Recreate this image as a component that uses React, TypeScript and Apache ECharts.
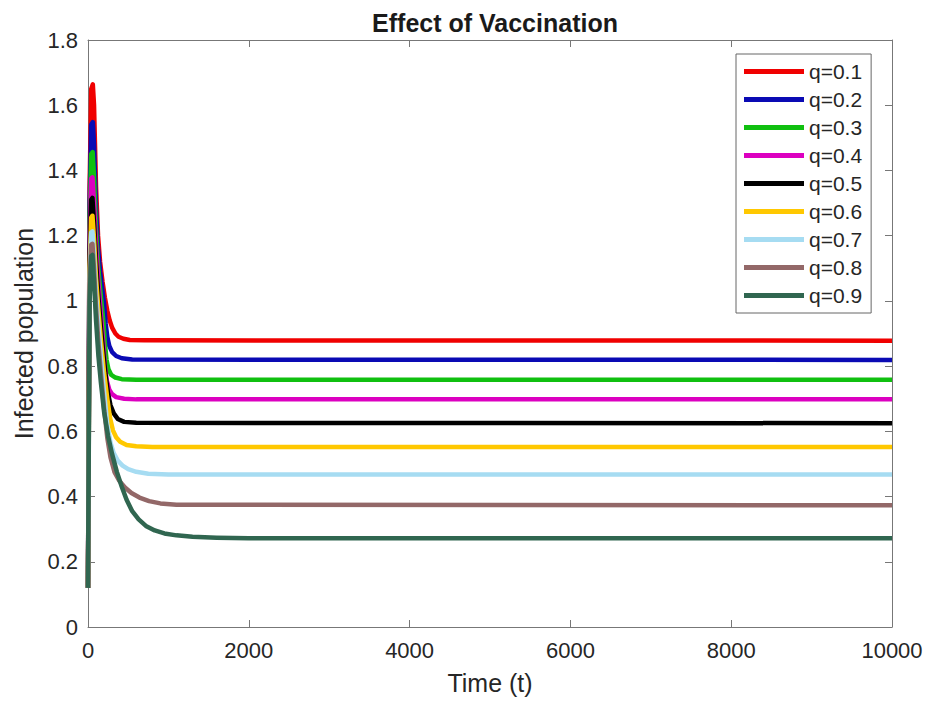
import React, { useEffect, useRef } from "react";
import * as echarts from "echarts";

// Time (t) vs infected population for each vaccination level q
const seriesNames = ["q=0.1", "q=0.2", "q=0.3", "q=0.4", "q=0.5", "q=0.6", "q=0.7", "q=0.8", "q=0.9"];
const seriesColors = ["#f00000", "#0a0ab4", "#10c010", "#dc00c0", "#000000", "#ffc800", "#a6dcf2", "#936868", "#306650"];

const q01 = [[0, 0.12], [20, 1.35], [40, 1.65], [60, 1.664], [75, 1.6], [100, 1.35], [125, 1.2], [150, 1.12], [180, 1.06], [210, 1.01], [240, 0.97], [270, 0.94], [300, 0.918], [340, 0.9], [380, 0.89], [440, 0.884], [520, 0.88], [700, 0.879], [10000, 0.878]];
const q02 = [[0, 0.12], [20, 1.3], [40, 1.54], [60, 1.548], [75, 1.48], [100, 1.28], [125, 1.16], [150, 1.09], [175, 1.04], [200, 0.99], [220, 0.93], [240, 0.89], [265, 0.862], [300, 0.843], [350, 0.831], [420, 0.824], [550, 0.82], [10000, 0.819]];
const q03 = [[0, 0.12], [20, 1.25], [40, 1.45], [58, 1.456], [75, 1.38], [100, 1.22], [125, 1.11], [150, 1.04], [170, 0.99], [190, 0.94], [210, 0.87], [230, 0.82], [255, 0.79], [290, 0.773], [340, 0.765], [420, 0.76], [600, 0.758], [10000, 0.758]];
const q04 = [[0, 0.12], [20, 1.2], [40, 1.375], [55, 1.379], [75, 1.3], [100, 1.17], [125, 1.07], [150, 0.99], [170, 0.93], [190, 0.87], [210, 0.8], [235, 0.755], [265, 0.728], [300, 0.714], [350, 0.705], [450, 0.7], [600, 0.698], [10000, 0.698]];
const q05 = [[0, 0.12], [20, 1.15], [40, 1.31], [55, 1.316], [75, 1.24], [100, 1.12], [130, 1.01], [160, 0.92], [190, 0.84], [220, 0.77], [250, 0.715], [280, 0.68], [320, 0.655], [370, 0.638], [450, 0.629], [600, 0.626], [10000, 0.625]];
const q06 = [[0, 0.12], [20, 1.1], [40, 1.255], [55, 1.261], [75, 1.19], [100, 1.07], [130, 0.97], [160, 0.88], [200, 0.78], [240, 0.7], [275, 0.64], [310, 0.603], [350, 0.582], [400, 0.568], [480, 0.558], [600, 0.554], [800, 0.552], [10000, 0.552]];
const q07 = [[0, 0.12], [20, 1.07], [40, 1.21], [55, 1.213], [75, 1.14], [100, 1.02], [130, 0.92], [160, 0.83], [200, 0.72], [240, 0.62], [280, 0.565], [320, 0.533], [370, 0.51], [430, 0.495], [500, 0.484], [600, 0.476], [750, 0.47], [1000, 0.468], [10000, 0.468]];
const q08 = [[0, 0.12], [20, 1.05], [40, 1.172], [55, 1.175], [75, 1.1], [100, 0.98], [130, 0.87], [160, 0.78], [200, 0.67], [240, 0.58], [280, 0.52], [330, 0.475], [390, 0.448], [460, 0.428], [540, 0.411], [640, 0.397], [760, 0.386], [900, 0.379], [1100, 0.375], [10000, 0.373]];
const q09 = [[0, 0.12], [20, 1.0], [40, 1.138], [55, 1.141], [75, 1.06], [100, 0.94], [130, 0.83], [160, 0.75], [200, 0.66], [250, 0.585], [300, 0.53], [360, 0.475], [420, 0.43], [480, 0.39], [550, 0.355], [630, 0.33], [720, 0.31], [830, 0.296], [950, 0.287], [1100, 0.281], [1300, 0.277], [1600, 0.274], [2000, 0.272], [10000, 0.272]];

const seriesData = [q01, q02, q03, q04, q05, q06, q07, q08, q09];

const FONT = "'Liberation Sans', Arial, Helvetica, sans-serif";
const AXIS_COLOR = "#777777";
const TEXT_COLOR = "#262626";

export default function App() {
  const ref = useRef<HTMLDivElement>(null);

  useEffect(() => {
    if (!ref.current) return;
    const chart = echarts.init(ref.current, undefined, { renderer: "svg" });

    const axisCommon = {
      axisLine: { show: true, onZero: false, lineStyle: { color: AXIS_COLOR, width: 1 } },
      axisTick: { show: true, inside: true, length: 7, lineStyle: { color: AXIS_COLOR, width: 1 } },
      splitLine: { show: false },
    };

    chart.setOption({
      animation: false,
      backgroundColor: "#ffffff",
      title: {
        text: "Effect of Vaccination",
        left: 490,
        textAlign: "center",
        top: 5,
        textStyle: { fontFamily: FONT, fontSize: 25, fontWeight: "bold", color: "#1a1a1a" },
      },
      grid: { left: 88, right: 36, top: 40, bottom: 76, containLabel: false },
      legend: {
        data: seriesNames,
        orient: "vertical",
        left: 736,
        top: 54,
        padding: [7, 9, 7, 8],
        backgroundColor: "#ffffff",
        borderColor: "#666666",
        borderWidth: 1,
        icon: "rect",
        itemWidth: 60,
        itemHeight: 5,
        itemGap: 7,
        textStyle: { fontFamily: FONT, fontSize: 21, color: TEXT_COLOR, lineHeight: 20 },
      },
      xAxis: [
        {
          type: "value",
          position: "bottom",
          min: 0,
          max: 10000,
          interval: 2000,
          ...axisCommon,
          axisLabel: {
            fontFamily: FONT,
            fontSize: 22,
            color: TEXT_COLOR,
            margin: 12,
            formatter: (v: number) => String(v),
          },
          name: "Time (t)",
          nameLocation: "middle",
          nameGap: 43,
          nameTextStyle: { fontFamily: FONT, fontSize: 25, color: TEXT_COLOR },
        },
        {
          type: "value",
          position: "top",
          min: 0,
          max: 10000,
          interval: 2000,
          ...axisCommon,
          axisLabel: { show: false },
        },
      ],
      yAxis: [
        {
          type: "value",
          position: "left",
          min: 0,
          max: 1.8,
          interval: 0.2,
          ...axisCommon,
          axisLabel: { fontFamily: FONT, fontSize: 22, color: TEXT_COLOR, margin: 10 },
          name: "Infected population",
          nameLocation: "middle",
          nameGap: 52,
          nameTextStyle: { fontFamily: FONT, fontSize: 25, color: TEXT_COLOR },
        },
        {
          type: "value",
          position: "right",
          min: 0,
          max: 1.8,
          interval: 0.2,
          ...axisCommon,
          axisLabel: { show: false },
        },
      ],
      series: seriesData.map((d, i) => ({
        name: seriesNames[i],
        type: "line",
        xAxisIndex: 0,
        yAxisIndex: 0,
        data: d,
        showSymbol: false,
        symbol: "none",
        smooth: false,
        color: seriesColors[i],
        lineStyle: { color: seriesColors[i], width: 4.5, cap: "butt", join: "round" },
        itemStyle: { color: seriesColors[i] },
        z: 2 + i,
      })),
    });

    return () => chart.dispose();
  }, []);

  return (
    <div
      ref={ref}
      style={{ position: "fixed", left: 0, top: 0, width: 928, height: 703, background: "#fff" }}
    />
  );
}
